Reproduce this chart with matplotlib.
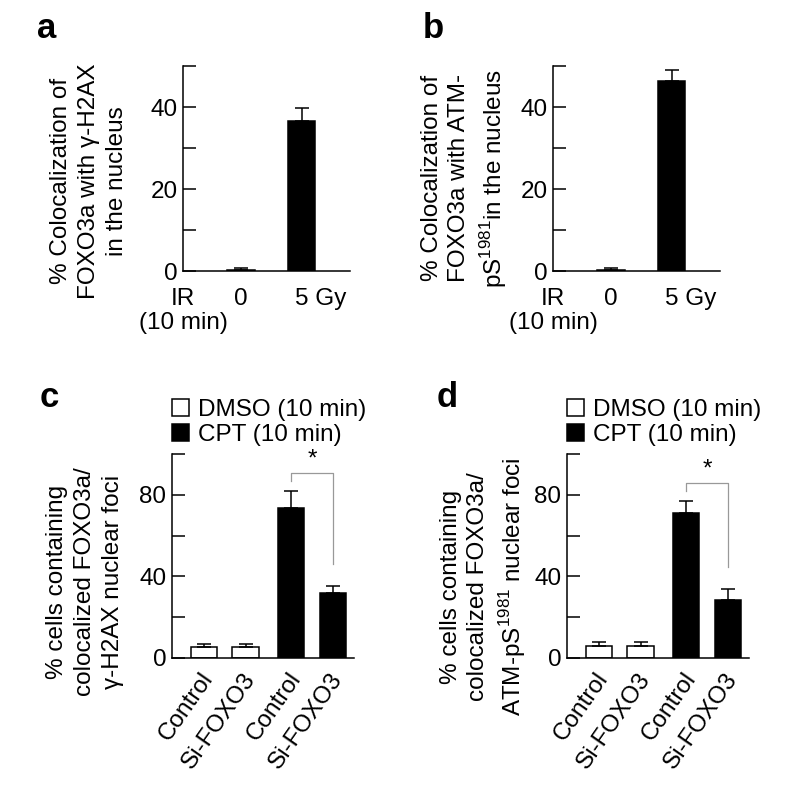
import matplotlib
matplotlib.use("Agg")
import matplotlib.pyplot as plt
import matplotlib.transforms as mtransforms
import numpy as np

plt.rcParams['font.family'] = ['Liberation Sans', 'DejaVu Sans']
plt.rcParams['mathtext.fontset'] = 'custom'
plt.rcParams['mathtext.rm'] = 'Liberation Sans'

# panels a / b : IR 10 min
ir_labels = ["0", "5 Gy"]
h2ax_mean = [0.3, 36.6]
h2ax_err = [0.5, 3.2]
atm_mean = [0.3, 46.3]
atm_err = [0.5, 2.7]

# panels c / d : DMSO vs CPT, control vs Si-FOXO3
sirna_labels = ["Control", "Si-FOXO3", "Control", "Si-FOXO3"]
treatment = ["DMSO", "DMSO", "CPT", "CPT"]
c_mean = [5.2, 5.2, 73.7, 31.9]
c_err = [1.6, 1.6, 8.3, 3.4]
d_mean = [5.9, 5.9, 71.2, 28.3]
d_err = [2.1, 2.1, 5.8, 5.3]

W, H = 795, 807
FS = 17.5
LW = 1.1

fig = plt.figure(figsize=(W / 100, H / 100), dpi=100)


def px_axes(left, top, right, bottom):
    return fig.add_axes([left / W, 1 - bottom / H, (right - left) / W, (bottom - top) / H])


def style(ax, ymax, step, labelled):
    for s in ("top", "right"):
        ax.spines[s].set_visible(False)
    for s in ("left", "bottom"):
        ax.spines[s].set_linewidth(LW)
    ticks = np.arange(0, ymax + 1, step)
    ax.set_ylim(0, ymax)
    ax.set_yticks(ticks, [str(t) if t in labelled else "" for t in ticks])
    ax.tick_params(axis="y", direction="in", length=9, width=LW, labelsize=FS, pad=4)
    ax.tick_params(axis="x", length=0)


def ir_panel(ax, mean, err):
    x = np.arange(len(mean))
    ax.bar(x, mean, width=0.45, color="black", edgecolor="black", linewidth=LW)
    ax.errorbar(x, mean, yerr=[np.zeros(len(err)), err], fmt="none", ecolor="black",
                elinewidth=LW, capsize=5, capthick=LW)
    ax.set_xlim(-0.96, 1.8)
    style(ax, 50, 10, (0, 20, 40))
    ax.set_xticks([])
    shift = [0, 0.32]
    for xi, lab, sh in zip(x, ir_labels, shift):
        ax.annotate(lab, (xi + sh, 0), xycoords=("data", "axes fraction"),
                    xytext=(0, -12), textcoords="offset points",
                    ha="center", va="top", fontsize=FS)
    ax.annotate("IR\n(10 min)", (0, 0), xycoords="axes fraction",
                xytext=(0, -12), textcoords="offset points",
                ha="center", va="top", fontsize=FS, linespacing=1.12)


def cpt_panel(ax, mean, err):
    x = np.array([0, 1, 2.1, 3.1])
    colors = ["white" if t == "DMSO" else "black" for t in treatment]
    bars = ax.bar(x, mean, width=0.63, color=colors, edgecolor="black", linewidth=LW)
    ax.errorbar(x, mean, yerr=[np.zeros(len(err)), err], fmt="none", ecolor="black",
                elinewidth=LW, capsize=5, capthick=LW)
    ax.set_xlim(-0.77, 3.61)
    style(ax, 100, 20, (0, 40, 80))
    ax.set_xticks(x, sirna_labels, rotation=55, ha="right", va="center",
                  rotation_mode="anchor", fontsize=FS)
    ax.tick_params(axis="x", pad=12)
    nudge = mtransforms.ScaledTranslation(5 / 100, 0, fig.dpi_scale_trans)
    for lab in ax.get_xticklabels():
        lab.set_transform(lab.get_transform() + nudge)
    # significance bracket between the two CPT bars
    tops = np.array(mean) + np.array(err)
    yb = tops[2] + 8.8
    ax.plot([x[2], x[2], x[3], x[3]], [yb - 4, yb, yb, tops[3] + 11],
            color="#999999", lw=0.9)
    ax.text((x[2] + x[3]) / 2, yb + 1.0, "*", ha="center", va="bottom", fontsize=FS)
    leg = ax.legend([bars[0], bars[2]], ["DMSO (10 min)", "CPT (10 min)"],
                    loc="lower left", bbox_to_anchor=(0, 1.04), frameon=False,
                    handlelength=0.7, handleheight=0.7, handletextpad=0.35,
                    labelspacing=0.1, borderpad=0, borderaxespad=0, fontsize=FS)
    return leg


ax_a = px_axes(183, 66, 350, 271)
ir_panel(ax_a, h2ax_mean, h2ax_err)
ax_b = px_axes(553, 66, 720, 271)
ir_panel(ax_b, atm_mean, atm_err)
ax_c = px_axes(172, 454, 354, 658)
cpt_panel(ax_c, c_mean, c_err)
ax_d = px_axes(567, 454, 749, 658)
cpt_panel(ax_d, d_mean, d_err)


def ylab(xc, yc, s):
    fig.text(xc / W, 1 - yc / H, s, rotation=90, ha="center", va="center",
             multialignment="center", fontsize=FS, linespacing=1.33)


ylab(89, 181, "% Colocalization of\nFOXO3a with \u03b3-H2AX\nin the nucleus")
ylab(465, 178, "% Colocalization of\nFOXO3a with ATM-\npS$^{\\mathregular{1981}}$in the nucleus")
ylab(85, 582, "% cells containing\ncolocalized FOXO3a/\n\u03b3-H2AX nuclear foci")
ylab(484, 587, "% cells containing\ncolocalized FOXO3a/\nATM-pS$^{\\mathregular{1981}}$ nuclear foci")

for letter, xl, yb in (("a", 37, 38), ("b", 423, 38), ("c", 40, 407), ("d", 437, 407)):
    fig.text(xl / W, 1 - yb / H, letter, fontsize=25, fontweight="bold",
             ha="left", va="baseline")

fig.savefig("out.png", dpi=100)
